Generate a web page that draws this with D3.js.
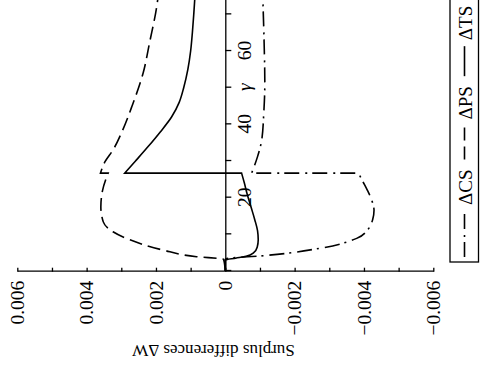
<!DOCTYPE html>
<html>
<head>
<meta charset="utf-8">
<title>Surplus differences</title>
<script src="https://d3js.org/d3.v7.min.js"></script>
<style>
  body { margin: 0; background: #fff; }
  svg text { font-family: "Liberation Serif", "Times New Roman", serif; }
</style>
</head>
<body>
<svg id="chart" width="481" height="374"></svg>
<script>
// values; every curve jumps at gamma ~ 26.7
var gammaCSLow = [0, 3.2, 3.5, 4.1, 6.2, 8.9, 11.4, 14, 16.6, 19.4, 22, 24.2, 26.7];
var csLow = [0, 0, -0.00013, -0.0010, -0.00273, -0.00379, -0.00412, -0.00425, -0.00429, -0.00422, -0.00410, -0.00398, -0.00384];
var gammaCSHigh = [26.7, 31.2, 35.7, 43.1, 51.3, 62.2, 72.1, 78];
var csHigh = [-0.00076, -0.00093, -0.00105, -0.00111, -0.00114, -0.00112, -0.00109, -0.00107];

var gammaPSLow = [0, 3.2, 3.9, 5.7, 8.5, 10.7, 13.4, 17.5, 22, 26.7];
var psLow = [0, 0.00005, 0.00083, 0.00179, 0.00275, 0.00324, 0.00352, 0.00359, 0.00354, 0.00338];
var gammaPSHigh = [26.7, 29.8, 33, 38, 45, 54, 62.5, 72, 78];
var psHigh = [0.00360, 0.00347, 0.00324, 0.00298, 0.00269, 0.00237, 0.00218, 0.00198, 0.00190];

var gammaTSLow = [0, 3.0, 3.5, 4.0, 5.0, 6.5, 8.5, 11, 14, 17.5, 21, 24, 26.7];
var tsLow = [0, 0, -0.0003, -0.0006, -0.00082, -0.00092, -0.00095, -0.00093, -0.00085, -0.00074, -0.00063, -0.00055, -0.00047];
var gammaTSHigh = [26.7, 30, 34, 38, 42, 46, 50, 55, 60, 65, 70, 76, 78];
var tsHigh = [0.00290, 0.00259, 0.00222, 0.00187, 0.00155, 0.00133, 0.00120, 0.00108, 0.00100, 0.00095, 0.00091, 0.00087, 0.00086];

var seriesNames = ["\u0394CS", "\u0394PS", "\u0394TS"];
var wTicks = [-0.006, -0.004, -0.002, 0, 0.002, 0.004, 0.006];
var wMinor = [-0.005, -0.003, -0.001, 0.001, 0.003, 0.005];
var gammaTicks = [0, 10, 20, 30, 40, 50, 60, 70, 80];
var gammaLabels = { 20: "20", 40: "40", 50: "\u03b3", 60: "60" };

var svg = d3.select("#chart");
// the figure is printed turned a quarter turn counter-clockwise:
// draw it upright in a 374 x 481 frame, then rotate the frame
var g = svg.append("g").attr("transform", "translate(0,374) rotate(-90)");

var x = d3.scaleLinear().domain([0, 80]).range([103, 396.3]);
var y = d3.scaleLinear().domain([-0.006, 0.006]).range([433.3, 17.3]);

var fmt = function(d) { return d === 0 ? "0" : d3.format(".3f")(d); };

// ΔW axis, ticks pointing inward
var yAxis = g.append("g")
    .attr("transform", "translate(102.3,0)")
    .call(d3.axisLeft(y).tickValues(wTicks).tickSizeInner(-4).tickSizeOuter(0).tickPadding(9).tickFormat(fmt));
g.append("g")
    .attr("transform", "translate(102.3,0)")
    .call(d3.axisLeft(y).tickValues(wMinor).tickSizeInner(-4).tickSizeOuter(0).tickFormat(""))
    .select(".domain").remove();

// gamma axis along ΔW = 0
var xAxis = g.append("g")
    .attr("transform", "translate(0," + y(0) + ")")
    .call(d3.axisBottom(x).tickValues(gammaTicks).tickSize(6).tickSizeOuter(0).tickPadding(5.5)
      .tickFormat(function(d) { return gammaLabels[d] || ""; }));
xAxis.selectAll(".tick text").filter(function(d) { return d === 50; }).style("font-style", "italic");

g.selectAll(".domain, .tick line").attr("stroke", "#000").attr("stroke-width", 1.3);
g.selectAll(".tick text").attr("font-family", null).attr("font-size", 19.5).attr("fill", "#000");
yAxis.attr("font-family", null);
xAxis.attr("font-family", null);

g.append("text")
    .attr("transform", "translate(29,213.5) rotate(-90)")
    .attr("text-anchor", "middle")
    .attr("font-size", 17)
    .text("Surplus differences \u0394W");

// curves: lower branch, vertical jump, upper branch
var line = d3.line()
    .x(function(d) { return x(d[0]); })
    .y(function(d) { return y(d[1]); })
    .curve(d3.curveMonotoneX);

function joined(gl, vl, gh, vh) {
  var low = line(d3.zip(gl, vl));
  var high = line(d3.zip(gh, vh));
  return low + "L" + high.slice(1);
}

var dashes = ["15,5,2,6", "13,6", null];
var curves = [
  joined(gammaCSLow, csLow, gammaCSHigh, csHigh),
  joined(gammaPSLow, psLow, gammaPSHigh, psHigh),
  joined(gammaTSLow, tsLow, gammaTSHigh, tsHigh)
];

g.selectAll("path.curve")
    .data(curves)
    .enter().append("path")
    .attr("class", "curve")
    .attr("d", function(d) { return d; })
    .attr("fill", "none")
    .attr("stroke", "#000")
    .attr("stroke-width", 1.6)
    .attr("stroke-dasharray", function(d, i) { return dashes[i]; });

// legend below the plot
var legend = g.append("g");
legend.append("rect")
    .attr("x", 112).attr("y", 450)
    .attr("width", 300).attr("height", 28.5)
    .attr("fill", "none").attr("stroke", "#000").attr("stroke-width", 1.3);

var symLen = [46, 34, 30];
var cursor = 117;
seriesNames.forEach(function(name, i) {
  legend.append("line")
      .attr("x1", cursor).attr("x2", cursor + symLen[i])
      .attr("y1", 464.5).attr("y2", 464.5)
      .attr("stroke", "#000").attr("stroke-width", 1.6)
      .attr("stroke-dasharray", dashes[i]);
  var t = legend.append("text")
      .attr("x", cursor + symLen[i] + 6)
      .attr("y", 471.5)
      .attr("font-size", 19)
      .text(name);
  cursor = cursor + symLen[i] + 6 + t.node().getComputedTextLength() + 10;
});
</script>
</body>
</html>
